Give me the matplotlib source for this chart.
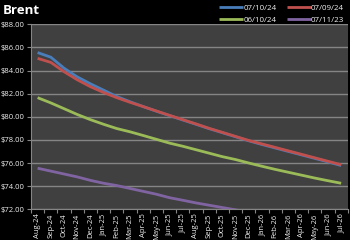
import matplotlib
matplotlib.use("Agg")
import matplotlib.pyplot as plt
import numpy as np

plt.rcParams['font.family'] = ['Open Sans', 'DejaVu Sans']

months = ["Aug-24", "Sep-24", "Oct-24", "Nov-24", "Dec-24", "Jan-25", "Feb-25", "Mar-25",
          "Apr-25", "May-25", "Jun-25", "Jul-25", "Aug-25", "Sep-25", "Oct-25", "Nov-25",
          "Dec-25", "Jan-26", "Feb-26", "Mar-26", "Apr-26", "May-26", "Jun-26", "Jul-26"]

s_071024 = [85.55, 85.15, 84.20, 83.45, 82.85, 82.30, 81.75, 81.30, 80.88, 80.48, 80.10, 79.72,
            79.35, 78.97, 78.62, 78.27, 77.92, 77.60, 77.30, 77.00, 76.70, 76.40, 76.10, 75.78]
s_070924 = [85.05, 84.70, 83.90, 83.20, 82.60, 82.10, 81.65, 81.25, 80.88, 80.50, 80.12, 79.75,
            79.38, 79.00, 78.65, 78.30, 77.95, 77.65, 77.35, 77.05, 76.75, 76.45, 76.15, 75.85]
s_061024 = [81.65, 81.20, 80.70, 80.20, 79.75, 79.35, 78.98, 78.70, 78.38, 78.05, 77.72, 77.45,
            77.15, 76.85, 76.55, 76.30, 76.00, 75.72, 75.45, 75.20, 74.95, 74.70, 74.47, 74.25]
s_071123 = [75.55, 75.30, 75.05, 74.80, 74.50, 74.25, 74.05, 73.80, 73.55, 73.30, 73.00, 72.78,
            72.55, 72.35, 72.15, 71.95, 71.75]

labels = ["07/10/24", "07/09/24", "06/10/24", "07/11/23"]
colors = ["#4A7EBB", "#C0504D", "#9BBB59", "#8064A2"]
yticks = [72, 74, 76, 78, 80, 82, 84, 86, 88]

fig = plt.figure(figsize=(3.5, 2.4), dpi=100, facecolor="black")
ax = fig.add_axes([0.0886, 0.128, 0.905, 0.771])
ax.set_facecolor("#404040")

x_all = np.arange(len(months))
lines = {}
series = [s_071024, s_070924, s_061024, s_071123]
for name, data, c in zip(labels, series, colors):
    x = np.arange(len(data))
    ln, = ax.plot(x, data, color=c, lw=2.0, solid_capstyle="butt", zorder=3)
    lines[name] = ln

ax.set_xlim(-0.5, len(months) - 0.5)
ax.set_ylim(72, 88)
ax.set_yticks(yticks)
ax.set_yticklabels([f"${v:.2f}" for v in yticks])
ax.yaxis.grid(True, color="#858585", lw=1.0)
ax.set_axisbelow(True)

ax.set_xticks(x_all)
ax.set_xticklabels(months, rotation=90)
ax.set_xticks(np.arange(-0.5, len(months)), minor=True)
ax.tick_params(axis="x", which="major", length=0, pad=3, labelsize=5.5, colors="#F0F0F0")
ax.tick_params(axis="x", which="minor", length=3, color="#858585", width=0.8)
ax.tick_params(axis="y", length=3, color="#858585", width=0.8, labelsize=5.5, colors="#F0F0F0", pad=1.5)

for side in ["top", "right"]:
    ax.spines[side].set_visible(False)
for side in ["left", "bottom"]:
    ax.spines[side].set_color("#858585")
    ax.spines[side].set_linewidth(0.8)

fig.text(0.008, 0.985, "Brent", color="white", fontsize=9.5, fontweight="bold",
         va="top", ha="left")

order = ["07/10/24", "06/10/24", "07/09/24", "07/11/23"]
leg = fig.legend([lines[k] for k in order], order, ncol=2, loc="upper right",
                 bbox_to_anchor=(1.005, 1.013), frameon=False, fontsize=5.8,
                 handlelength=3.0, handletextpad=0.0, columnspacing=1.3,
                 labelspacing=0.55, labelcolor="#F0F0F0")

fig.savefig("out.png", dpi=100, facecolor="black")
